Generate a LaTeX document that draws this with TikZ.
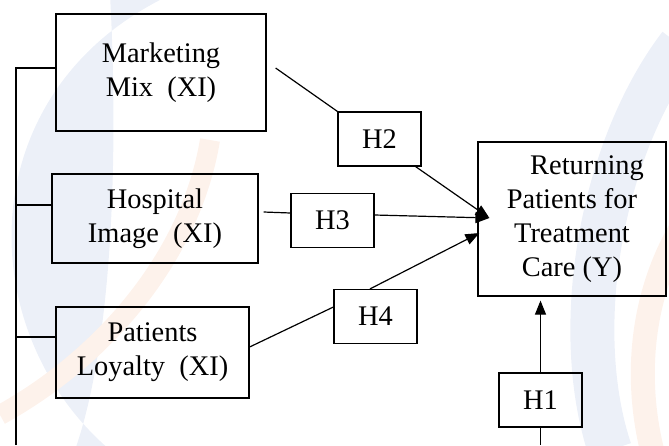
\documentclass[tikz,border=0pt]{standalone}
\usepackage{fontspec}
\setmainfont{Liberation Serif}
\usetikzlibrary{arrows.meta}
\definecolor{wmblue}{RGB}{236,240,248}
\definecolor{wmorange}{RGB}{253,242,235}

\begin{document}
\begin{tikzpicture}[x=0.5pt, y=-0.5pt,
    varbox/.style={draw, line width=0.6pt, align=center, inner sep=0pt,
                   font=\fontsize{14.2}{17}\selectfont},
    hypbox/.style={varbox, minimum width=41.5pt, minimum height=27pt},
    ln/.style={line width=0.6pt},
    arr/.style={ln, -{Triangle[length=7pt,width=5.5pt]}}]
  \useasboundingbox (0,0) rectangle (669,445);
  % faint watermark behind the model
  \fill[wmblue] (170,-5) .. controls (-30,90) and (-30,330) .. (110,450)
                -- (75,450) .. controls (117,330) and (117,120) .. (110,-5) -- cycle;
  \draw[wmorange, line width=10pt] (210,140) .. controls (190,260) and (100,360) .. (0,415);
  \draw[wmblue, line width=22pt] (680,45) .. controls (600,150) and (570,330) .. (610,450);
  \draw[wmorange, line width=12pt] (680,230) .. controls (640,300) and (635,380) .. (652,450);
  % variables
  \node[varbox, minimum width=105pt, minimum height=58.5pt] (mm) at (161,72.5) {Marketing\\Mix~~(XI)};
  \node[varbox, minimum width=103pt, minimum height=44.5pt] (hi) at (155,218.5) {Hospital\\Image~~(XI)};
  \node[varbox, minimum width=96.5pt, minimum height=45.5pt] (pl) at (152.5,352.5) {Patients\\Loyalty~~(XI)};
  \node[varbox, minimum width=94pt, minimum height=77pt] (rp) at (572,219)
       {\hspace*{15pt}Returning\\Patients for\\Treatment\\Care (Y)};
  % hypotheses
  \node[hypbox] (h2) at (379.5,139) {H2};
  \node[hypbox] (h3) at (332.5,220.5) {H3};
  \node[hypbox] (h4) at (375.5,316.5) {H4};
  \node[hypbox] (h1) at (540.5,400) {H1};
  % left bus
  \coordinate (busbot) at (16,445);
  \coordinate (mmin) at ([yshift=2.25pt]mm.west);
  \coordinate (hiin) at ([yshift=6.75pt]hi.west);
  \coordinate (plin) at ([yshift=7.75pt]pl.west);
  \draw[ln] (busbot) |- (mmin);
  \draw[ln] (hiin) -- (busbot |- hiin);
  \draw[ln] (plin) -- (busbot |- plin);
  % paths
  \coordinate (rptip) at ([shift={(6pt,0.5pt)}]rp.west);
  \draw[ln] ([shift={(4.5pt,2.25pt)}]mm.east) -- (h2.north west);
  \draw[arr] ([xshift=-3pt]h2.south east) -- (rptip);
  \draw[ln] ([shift={(2.5pt,3.25pt)}]hi.east) -- ([yshift=3.75pt]h3.west);
  \draw[arr] ([yshift=2.75pt]h3.east) -- (rptip);
  \draw[ln] ([yshift=2.75pt]pl.east) -- ([yshift=4.75pt]h4.west);
  \draw[arr] ([xshift=-2.75pt]h4.north) -- ([shift={(1pt,-7pt)}]rp.west);
  \draw[arr, shorten >=2pt] (h1.north) -- (h1.north |- rp.south);
  \draw[ln] (h1.south) -- (h1.south |- busbot);
\end{tikzpicture}
\end{document}
